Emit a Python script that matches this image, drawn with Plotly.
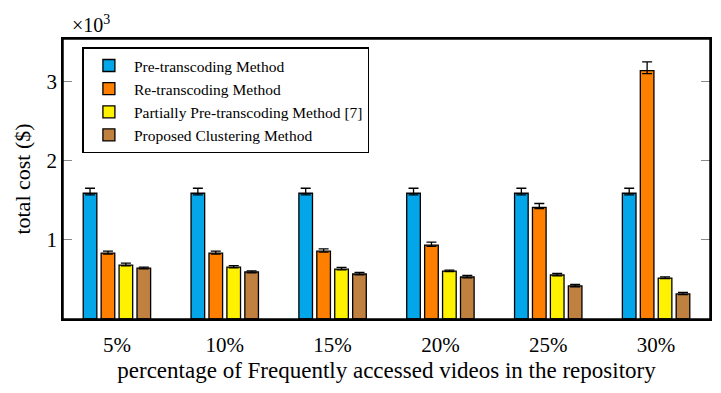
import plotly.graph_objects as go

categories = ["5%", "10%", "15%", "20%", "25%", "30%"]
series_names = [
    "Pre-transcoding Method",
    "Re-transcoding Method",
    "Partially Pre-transcoding Method [7]",
    "Proposed Clustering Method",
]
# values in units of 10^3 $
pre_transcoding = [1.59, 1.59, 1.59, 1.59, 1.59, 1.59]
re_transcoding = [0.833, 0.833, 0.858, 0.933, 1.41, 3.14]
partially_pre = [0.682, 0.657, 0.631, 0.606, 0.556, 0.518]
proposed = [0.644, 0.594, 0.569, 0.531, 0.418, 0.317]

pre_err_plus = [0.063, 0.063, 0.063, 0.063, 0.063, 0.063]
pre_err_minus = [0.021, 0.021, 0.021, 0.021, 0.021, 0.021]
re_err_plus = [0.025, 0.025, 0.028, 0.038, 0.05, 0.11]
re_err_minus = [0.012, 0.012, 0.012, 0.013, 0.013, 0.037]
pa_err_plus = [0.025, 0.018, 0.022, 0.012, 0.02, 0.015]
pa_err_minus = [0.01, 0.01, 0.01, 0.008, 0.01, 0.008]
pr_err_plus = [0.012, 0.014, 0.02, 0.02, 0.018, 0.02]
pr_err_minus = [0.01, 0.01, 0.01, 0.01, 0.01, 0.01]

colors = ["#03A6E9", "#FF8000", "#FFF200", "#BF8040"]
values = [pre_transcoding, re_transcoding, partially_pre, proposed]
eplus = [pre_err_plus, re_err_plus, pa_err_plus, pr_err_plus]
eminus = [pre_err_minus, re_err_minus, pa_err_minus, pr_err_minus]

FONT = "Liberation Serif"

fig = go.Figure()
for name, vals, col, ep, em in zip(series_names, values, colors, eplus, eminus):
    fig.add_trace(go.Bar(
        x=categories, y=vals, name=name,
        marker=dict(color=col, line=dict(color="black", width=1.3)),
        error_y=dict(type="data", symmetric=False, array=ep, arrayminus=em,
                     color="black", thickness=1.3, width=5),
    ))

# page has an 8px body margin; figure sized to fit the 721x393 window
fig.update_layout(
    width=713, height=385,
    margin=dict(l=55, r=11, t=31, b=74, autoexpand=False),
    paper_bgcolor="white", plot_bgcolor="white",
    barmode="group", bargap=0.335, bargroupgap=0.24,
    font=dict(family=FONT, color="black"),
    showlegend=True,
    legend=dict(
        x=0.03, y=0.97, xanchor="left", yanchor="top",
        bordercolor="black", borderwidth=1.5, bgcolor="white",
        font=dict(family=FONT, size=15.5, color="black"),
        itemwidth=40, tracegroupgap=0,
    ),
)
fig.update_xaxes(
    showline=True, linecolor="black", linewidth=1.5, mirror=True,
    ticks="", showgrid=False, range=[-0.5, 5.5], automargin=False,
    tickfont=dict(family=FONT, size=21, color="black"),
    ticklabelstandoff=6,
    title=dict(text="percentage of Frequently accessed videos in the repository",
               font=dict(family=FONT, size=23, color="black"), standoff=6),
)
fig.update_yaxes(
    showline=True, linecolor="black", linewidth=1.5, mirror="ticks",
    ticks="inside", ticklen=9, tickcolor="#888888", tickwidth=1.3,
    showgrid=False, zeroline=False, range=[0, 3.54], automargin=False,
    tickvals=[1, 2, 3], ticktext=["1", "2", "3"],
    tickfont=dict(family=FONT, size=21, color="black"),
    ticklabelstandoff=0,
    title=dict(text="total cost ($)", font=dict(family=FONT, size=22, color="black"),
               standoff=10),
)
fig.add_shape(type="rect", xref="paper", yref="paper", x0=0, x1=1, y0=0, y1=1,
              line=dict(color="black", width=1.5), layer="above")
fig.add_annotation(
    text="×10<sup>3</sup>", xref="paper", yref="paper", x=0.0, y=1.0,
    xanchor="left", yanchor="bottom", showarrow=False, yshift=1, xshift=7,
    font=dict(family=FONT, size=20, color="black"),
)
fig.write_html("out.html")
